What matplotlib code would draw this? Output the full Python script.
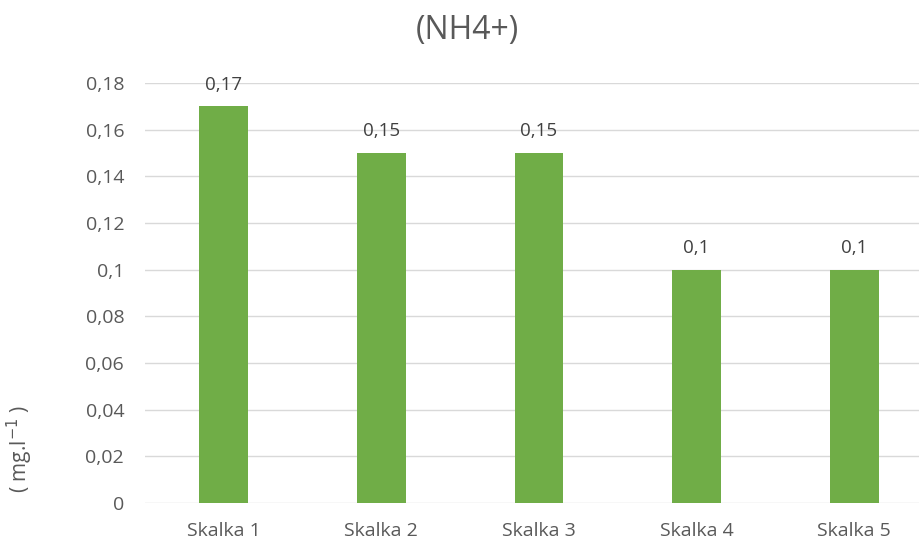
import matplotlib.pyplot as plt
from matplotlib.ticker import FuncFormatter

plt.rcParams['font.family'] = ['Open Sans', 'DejaVu Sans']

categories = ["Skalka 1", "Skalka 2", "Skalka 3", "Skalka 4", "Skalka 5"]
values = [0.17, 0.15, 0.15, 0.1, 0.1]
value_labels = ["0,17", "0,15", "0,15", "0,1", "0,1"]
yticks = [0, 0.02, 0.04, 0.06, 0.08, 0.1, 0.12, 0.14, 0.16, 0.18]

W, H = 920, 542
fig = plt.figure(figsize=(W / 100, H / 100), dpi=100)
# plot area in pixels: left 145, right 933 (cropped), top y=83 (0.18), bottom y=503 (0)
ax = fig.add_axes([145 / W, (H - 503) / H, (933 - 145) / W, (503 - 83) / H])

grey = '#595959'
x = range(len(categories))
bars = ax.bar(x, values, width=0.31, color='#70AD47', zorder=3)

for b, lab in zip(bars, value_labels):
    ax.annotate(lab, (b.get_x() + b.get_width() / 2, b.get_height()),
                xytext=(0, 9), textcoords='offset points', ha='center', va='bottom',
                fontsize=13.5, color='#404040')

ax.set_xlim(-0.5, len(categories) - 0.5)
ax.set_ylim(0, 0.18)
ax.set_yticks(yticks)
ax.yaxis.set_major_formatter(FuncFormatter(lambda v, p: ('%g' % round(v, 2)).replace('.', ',')))
ax.set_xticks(list(x))
ax.set_xticklabels(categories)
ax.tick_params(axis='y', length=0, pad=15, labelsize=14, labelcolor=grey)
ax.tick_params(axis='x', length=0, pad=14, labelsize=14, labelcolor=grey)
ax.grid(axis='y', color='#D9D9D9', linewidth=1, zorder=0)
for s in ax.spines.values():
    s.set_visible(False)

fig.text(467 / W, 1 - 30 / H, "(NH4+)", ha='center', va='center', fontsize=23, color=grey)
fig.text(20 / W, 1 - 449 / H, "( mg.l$^{-1}$ )", ha='center', va='center', rotation=90,
         fontsize=15, color=grey)

fig.savefig('out.png', dpi=100)
